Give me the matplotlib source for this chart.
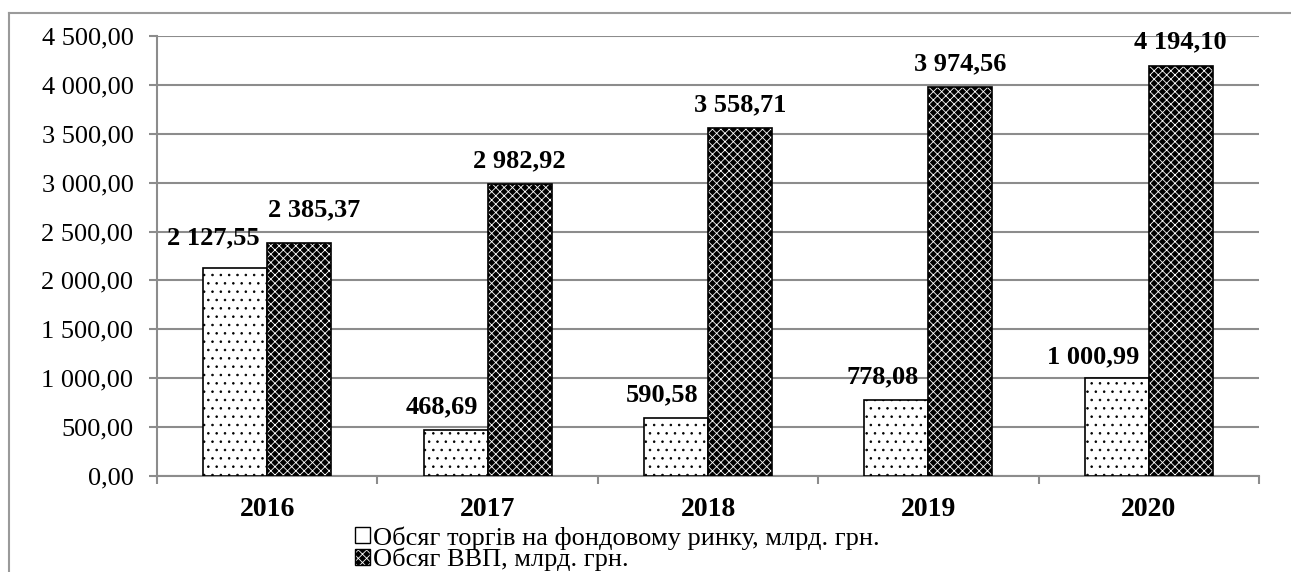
import numpy as np
import matplotlib
matplotlib.use("Agg")
import matplotlib.pyplot as plt
from matplotlib.patches import Patch
from matplotlib.legend_handler import HandlerTuple
from matplotlib.lines import Line2D

# дані
years = ["2016", "2017", "2018", "2019", "2020"]
trading = [2127.55, 468.69, 590.58, 778.08, 1000.99]
gdp = [2385.37, 2982.92, 3558.71, 3974.56, 4194.10]
trading_label = "Обсяг торгів на фондовому ринку, млрд. грн."
gdp_label = "Обсяг ВВП, млрд. грн."
yticks = np.arange(0, 4501, 500)

# зсуви підписів (точки)
trading_dx = [-16, -10, -10, -10, -17]
trading_dy = [17, 12, 12, 12, 11]
gdp_dx = [11, 0, 0, 0, 0]
gdp_dy = [19, 12, 12, 12, 13]

plt.rcParams['font.family'] = ['Liberation Serif', 'DejaVu Serif']
plt.rcParams['hatch.linewidth'] = 0.6

def fmt(v):
    s = f"{v:,.2f}"
    return s.replace(",", " ").replace(".", ",")

fig = plt.figure(figsize=(12.91, 5.72), dpi=100)
ax = fig.add_axes([157/1291, 1-476/572, (1259-157)/1291, 440/572])

x = np.arange(len(years))
w = 0.29
grid_c = "#8c8c8c"

ax.bar(x - w/2, trading, w, color="white", edgecolor="black", hatch="..", linewidth=1.2, zorder=3)
ax.bar(x + w/2, gdp, w, color="black", edgecolor="white", hatch="xxxx", linewidth=0, zorder=3)
ax.bar(x + w/2, gdp, w, color="none", edgecolor="black", linewidth=1.2, zorder=4)

for i in range(len(years)):
    ax.annotate(fmt(trading[i]), (x[i] - w/2, trading[i]), xytext=(trading_dx[i], trading_dy[i]),
                textcoords="offset points", ha="center", va="baseline",
                fontsize=19, fontweight="bold")
    ax.annotate(fmt(gdp[i]), (x[i] + w/2, gdp[i]), xytext=(gdp_dx[i], gdp_dy[i]),
                textcoords="offset points", ha="center", va="baseline",
                fontsize=19, fontweight="bold")

ax.set_xlim(-0.5, len(years) - 0.5)
ax.set_ylim(0, 4500)
ax.set_yticks(yticks)
ax.set_yticklabels([fmt(v) for v in yticks], fontsize=19)
ax.yaxis.grid(True, color=grid_c, linewidth=1.5, zorder=0)
ax.set_axisbelow(True)

ax.set_xticks(np.arange(-0.5, len(years)), labels=[])
ax.set_xticks(x, labels=years, minor=True)
ax.tick_params(axis="x", which="major", length=6, width=1.5, color=grid_c, direction="out")
ax.tick_params(axis="x", which="minor", length=0, pad=15, labelsize=20)
for t in ax.get_xticklabels(minor=True):
    t.set_fontweight("bold")
ax.tick_params(axis="y", length=6, width=1.5, color=grid_c, pad=11)

for s in ["top", "right"]:
    ax.spines[s].set_visible(False)
for s in ["left", "bottom"]:
    ax.spines[s].set_color(grid_c)
    ax.spines[s].set_linewidth(1.5)

# зовнішня рамка
fig.add_artist(Line2D([9/1291, 9/1291], [0, 1-13/572], color="#9a9a9a", linewidth=1.5))
fig.add_artist(Line2D([9/1291, 1], [1-13/572, 1-13/572], color="#9a9a9a", linewidth=1.5))

h1 = Patch(facecolor="white", edgecolor="black", linewidth=1)
h2a = Patch(facecolor="black", edgecolor="white", hatch="xxxx", linewidth=0)
h2b = Patch(facecolor="none", edgecolor="black", linewidth=1)
fig.legend([h1, (h2a, h2b)], [trading_label, gdp_label],
           handler_map={tuple: HandlerTuple(ndivide=1)},
           loc="upper left", bbox_to_anchor=(355/1291, 1-526/572),
           frameon=False, fontsize=19, handlelength=0.55, handleheight=0.55,
           handletextpad=0.12, labelspacing=-0.08, borderpad=0, borderaxespad=0)

fig.savefig("out.png", dpi=100)
